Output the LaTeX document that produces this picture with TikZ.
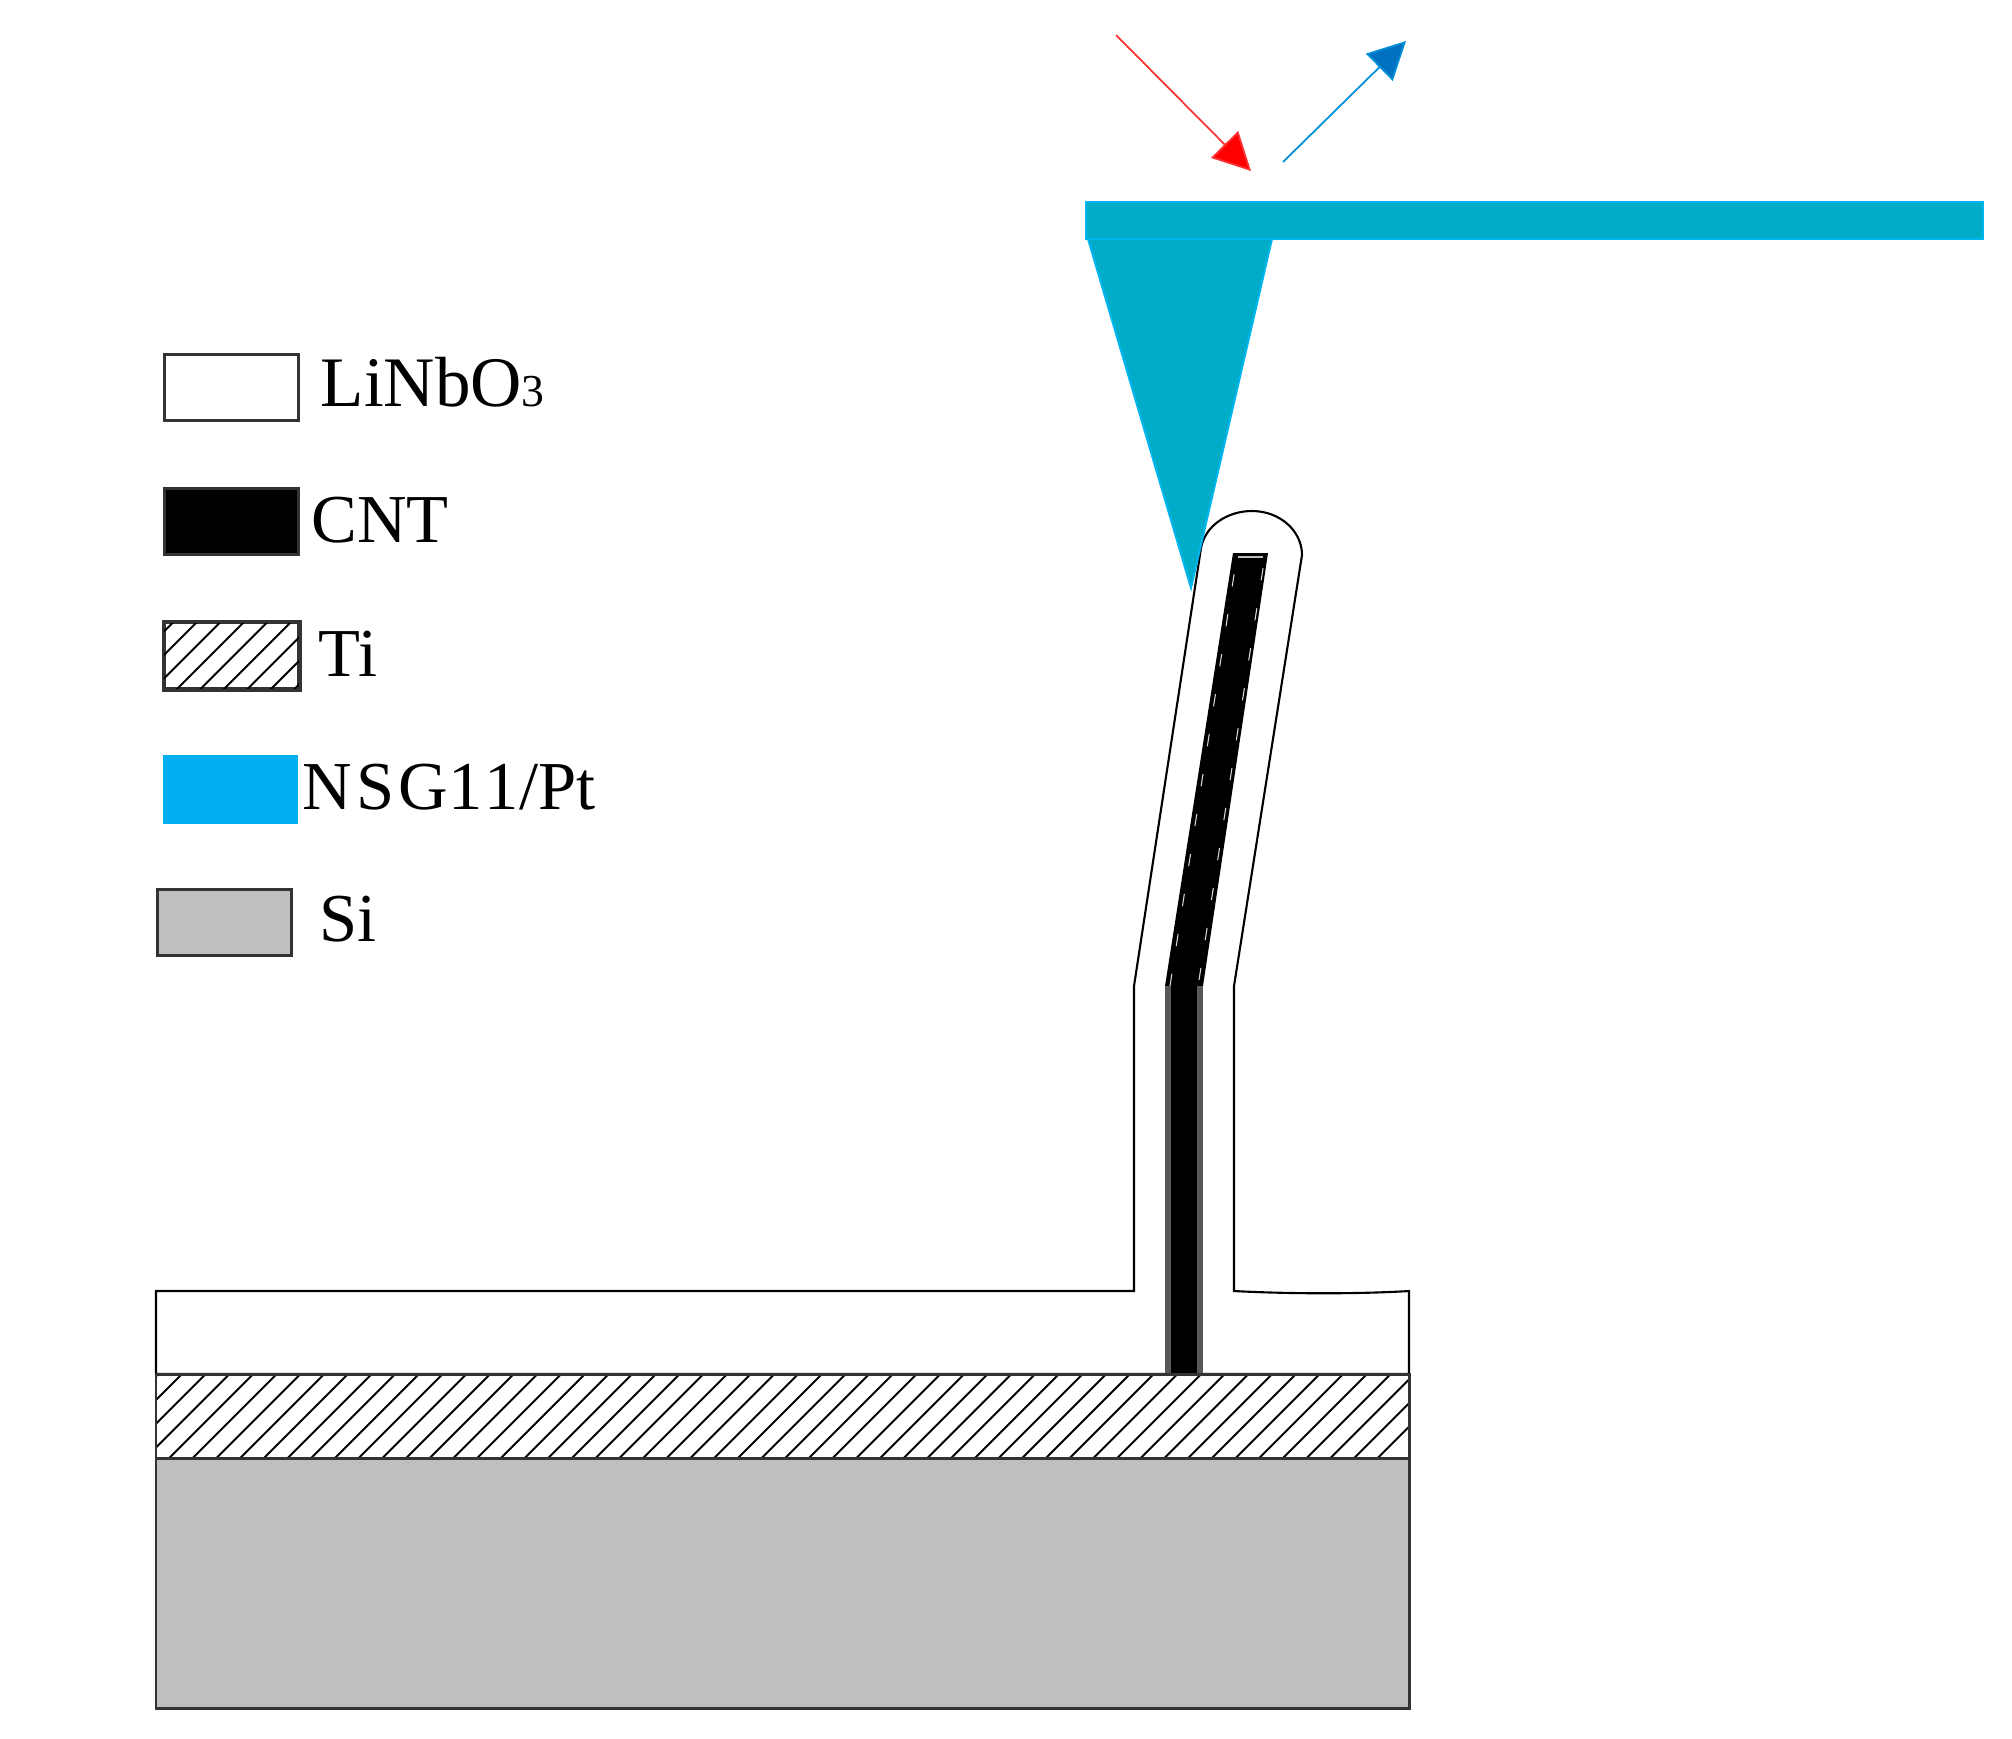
\documentclass[tikz,border=0pt]{standalone}
\usepackage{fontspec}
\setmainfont{Liberation Serif}
\usetikzlibrary{arrows.meta}
\definecolor{tipfill}{HTML}{00ACC8}
\definecolor{tipedge}{HTML}{00B6F0}
\definecolor{legblue}{HTML}{00B0F0}
\definecolor{sigray}{HTML}{BFBFBF}
\definecolor{edgegray}{HTML}{333333}
\definecolor{outblue}{HTML}{0070C0}
\definecolor{outline}{HTML}{0090D8}
\tikzset{
  swatch/.style={draw=edgegray,line width=0.85pt,inner sep=0pt,minimum width=1.34cm,minimum height=0.66cm,anchor=north west},
  legtext/.style={anchor=base west,inner sep=0pt,font=\fontsize{19.5}{22}\selectfont},
  outl/.style={draw=black,line width=0.6pt,line join=miter},
  layer/.style={draw=edgegray,line width=0.85pt},
  hatchline/.style={draw=black,line width=0.55pt},
  beam/.style={line width=0.5pt},
  afm/.style={fill=tipfill,draw=tipedge,line width=0.55pt,line join=miter}
}
\begin{document}
\begin{tikzpicture}[x=0.01cm,y=-0.01cm]
\useasboundingbox (0,0) rectangle (2012,1738);
\fill[white] (0,0) rectangle (2012,1738);
% legend swatches
\node[swatch,fill=white] (swLN) at (163,353) {};
\node[swatch,fill=black] (swCNT) at (163,487) {};
\node[swatch,fill=white] (swTi) at (163,621) {};
\begin{scope}
\clip (swTi.north west) rectangle (swTi.south east);
\foreach \k in {-1,...,9}{
  \draw[hatchline] ({198+\k*23.5},621) -- ++(-80,80);
}
\end{scope}
\draw[layer] (swTi.north west) rectangle (swTi.south east);
\node[swatch,fill=legblue,draw=legblue,line width=0pt,minimum height=0.68cm] (swNSG) at (163,755) {};
\node[swatch,fill=sigray] (swSi) at (156,888) {};
% legend labels
\node[legtext,font=\fontsize{20.2}{22}\selectfont] (tLN) at (320,406) {LiNbO{\fontsize{13}{14}\selectfont 3}};
\node[legtext] (tCNT) at (311,542) {CNT};
\node[legtext] (tTi) at (318,676) {Ti};
\node[legtext] (tNSG) at (302,809) {N\kern1.2pt S\kern1pt G\kern0.3pt 1\kern0.6pt 1/Pt};
\node[legtext] (tSi) at (319,941) {Si};
% LiNbO3 body with pillar
\path[outl,fill=white] (156,1374) -- (156,1291) -- (1134,1291) -- (1134,986)
  -- (1201,548) .. controls (1205,526) and (1227,511) .. (1252,511)
  .. controls (1280,511) and (1302,531) .. (1302,555)
  -- (1234,986) -- (1234,1291) .. controls (1290,1294) and (1360,1294) .. (1409,1291)
  -- (1409,1374) -- cycle;
% CNT
\fill[black] (1233,553) -- (1268,553) -- (1203,986) -- (1165,986) -- cycle;
\fill[black!65] (1165,986) rectangle (1203,1374);
\fill[black] (1171,986) rectangle (1197,1374);
\draw[white!85!black,line width=0.3pt,dash pattern=on 3.5pt off 8pt] (1170,986) -- (1236,562);
\draw[white!85!black,line width=0.3pt,dash pattern=on 3.5pt off 8pt] (1199,980) -- (1264,562);
\draw[sigray,line width=0.5pt] (1238,557) -- (1263,557);
% Ti layer
\fill[white] (156,1374) rectangle (1409,1458);
\begin{scope}
\clip (156,1374) rectangle (1409,1458);
\foreach \k in {-4,...,54}{
  \draw[hatchline] ({180+\k*23.7},1376) ++(-100,100) -- ++(200,-200);
}
\end{scope}
\draw[layer] (156,1374) rectangle (1409,1458);
% Si
\draw[layer,fill=sigray] (156,1458) rectangle (1409,1708);
% AFM probe
\path[afm] (1088,239) -- (1272,239) -- (1191,588) -- cycle;
\path[afm] (1086,202) rectangle (1983,239);
% beams
\coordinate (rs) at (1116,35);
\coordinate (re) at (1251,171);
\coordinate (bs) at (1283,162);
\coordinate (be) at (1406,41);
\draw[beam,red!80,-{Triangle[length=3.75mm,width=3.8mm,fill=red]}] (rs) -- (re);
\draw[beam,outline,-{Triangle[length=3.75mm,width=3.8mm,fill=outblue]}] (bs) -- (be);
\end{tikzpicture}
\end{document}
